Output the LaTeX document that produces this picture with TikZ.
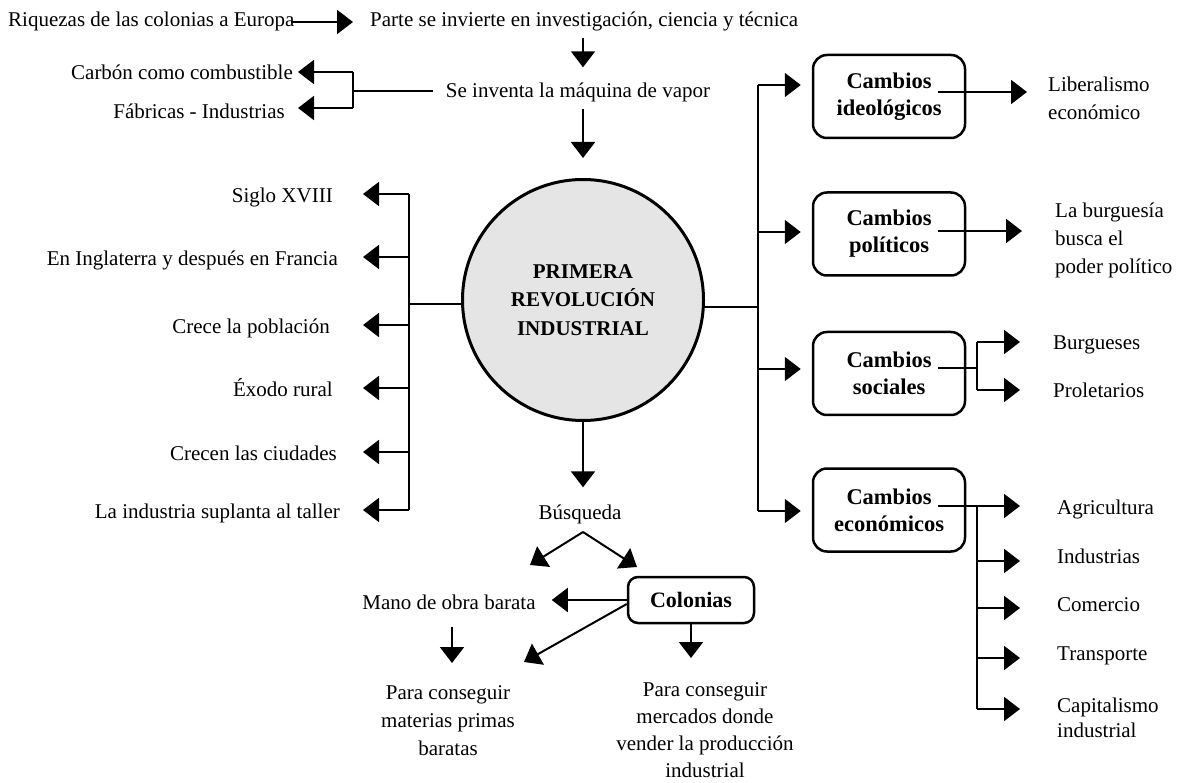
\documentclass[tikz,border=0pt]{standalone}
\usepackage{fontspec}
\setmainfont{Liberation Serif}
\usetikzlibrary{arrows.meta,calc}
\begin{document}
\begin{tikzpicture}[x=1pt,y=-1pt,
  lbl/.style={inner sep=0pt, font=\fontsize{21}{28}\selectfont, text height=14pt, text depth=5pt},
  ml/.style={inner sep=0pt, font=\fontsize{21}{28}\selectfont},
  arr/.style={-{Triangle[length=16pt,width=24pt]}, line width=2pt},
  ln/.style={line width=2pt},
  cbox/.style={draw, line width=2.5pt, rounded corners=14pt, minimum width=152pt, minimum height=83pt,
    inner sep=0pt, align=center, font=\fontsize{22.5}{27}\selectfont\bfseries},
  colbox/.style={draw, line width=2.5pt, rounded corners=10pt, minimum width=126pt, minimum height=46pt,
    inner sep=0pt, font=\fontsize{22}{27}\selectfont\bfseries}
]
\useasboundingbox (0,0) rectangle (1178,783);

% central circle
\node[circle, draw, line width=3pt, fill=gray!20, minimum size=241pt, inner sep=0pt, align=center,
  font=\fontsize{21}{28.5}\selectfont\bfseries] (rev) at (583,300) {PRIMERA\\REVOLUCIÓN\\INDUSTRIAL};

% top chain
\node[lbl, anchor=west] (riq) at (8,22) {Riquezas de las colonias a Europa};
\node[lbl, anchor=west] (par) at (370,22) {Parte se invierte en investigación, ciencia y técnica};
\node[lbl] (vap) at (578,93) {Se inventa la máquina de vapor};
\draw[arr, shorten <=-4pt, shorten >=17pt] (riq.east) -- (par.west);
\draw[arr, shorten <=6pt, shorten >=16pt] (par.south -| rev.north) -- (vap.north -| rev.north);
\draw[arr, shorten <=6pt, shorten >=20pt] (vap.south -| rev.north) -- (rev.north);

% carbon / fabricas
\coordinate (cs) at (433,91);
\coordinate (cj) at (353,91);
\coordinate (cj1) at (353,72);
\coordinate (cj2) at (353,108);
\coordinate (ct1) at (298,72);
\coordinate (ct2) at (298,108);
\node[lbl, anchor=east] (carb) at (293,75) {Carbón como combustible};
\node[lbl, anchor=east] (fab) at (285,114) {Fábricas - Industrias};
\draw[ln] (cs) -- (cj);
\draw[ln] (cj1) -- (cj2);
\draw[arr] (cj1) -- (ct1);
\draw[arr] (cj2) -- (ct2);

% left branch
\coordinate (lb) at (409,304);
\draw[ln] (rev.west |- lb) -- (lb);
\foreach \i/\y/\x/\t in {1/194/333/Siglo XVIII, 2/257/338/En Inglaterra y después en Francia,
    3/325/330/Crece la población, 4/388/333/Éxodo rural, 5/452/337/Crecen las ciudades,
    6/510/340/La industria suplanta al taller}{
  \node[lbl, anchor=east] (L\i) at (\x,\y+4) {\t};
  \coordinate (LJ\i) at (409,\y);
  \coordinate (LT\i) at (363,\y);
  \draw[arr] (LJ\i) -- (LT\i);
}
\draw[ln] (LJ1) -- (LJ6);

% right branch
\node[cbox] (B1) at (889,96.5) {Cambios\\ideológicos};
\node[cbox] (B2) at (889,234) {Cambios\\políticos};
\node[cbox] (B3) at (889,373.5) {Cambios\\sociales};
\node[cbox] (B4) at (889,510) {Cambios\\económicos};
\coordinate (rb) at (758,307);
\draw[ln] (rev.east |- rb) -- (rb);
\coordinate (RJ1) at (758,85);
\coordinate (RJ2) at (758,232);
\coordinate (RJ3) at (758,369);
\coordinate (RJ4) at (758,511);
\draw[ln] (RJ1) -- (RJ4);
\foreach \i in {1,2,3,4}{
  \draw[arr, shorten >=11pt] (RJ\i) -- (RJ\i -| B\i.west);
}

% ideologicos / politicos outputs
\node[ml, anchor=west, align=left] (lib) at (1048,98) {Liberalismo\\económico};
\node[ml, anchor=west, align=left] (bur) at (1055,240) {La burguesía\\busca el\\poder político};
\coordinate (B1o) at ($(B1.center)+(49,-4.5)$);
\coordinate (B1t) at (1027,92);
\draw[arr] (B1o) -- (B1t);
\coordinate (B2o) at ($(B2.center)+(49,-3)$);
\coordinate (B2t) at (1022,231);
\draw[arr] (B2o) -- (B2t);

% sociales
\coordinate (B3o) at ($(B3.center)+(49,-5.5)$);
\coordinate (S0) at (977,368);
\coordinate (S1) at (977,342);
\coordinate (S2) at (977,390);
\coordinate (ST1) at (1020,342);
\coordinate (ST2) at (1020,390);
\draw[ln] (B3o) -- (S0);
\draw[ln] (S1) -- (S2);
\draw[arr] (S1) -- (ST1);
\draw[arr] (S2) -- (ST2);
\node[lbl, anchor=west] (burg) at (1053,345) {Burgueses};
\node[lbl, anchor=west] (prol) at (1053,393) {Proletarios};

% economicos
\coordinate (B4o) at ($(B4.center)+(49,-4)$);
\foreach \i/\y in {1/506, 2/561, 3/608, 4/658, 5/709}{
  \coordinate (EJ\i) at (977,\y);
  \coordinate (ET\i) at (1020,\y);
}
\draw[ln] (B4o) -- (EJ1);
\draw[ln] (EJ1) -- (EJ5);
\foreach \i in {1,...,5}{ \draw[arr] (EJ\i) -- (ET\i); }
\node[lbl, anchor=west] (E1) at (1057,510) {Agricultura};
\node[lbl, anchor=west] (E2) at (1057,559) {Industrias};
\node[lbl, anchor=west] (E3) at (1057,607) {Comercio};
\node[lbl, anchor=west] (E4) at (1057,656) {Transporte};
\node[ml, anchor=west, align=left, font=\fontsize{21}{25}\selectfont] (E5) at (1057,718) {Capitalismo\\industrial};

% bottom
\node[lbl] (busq) at (580,515) {Búsqueda};
\draw[arr, shorten >=18pt] (rev.south) -- (rev.south |- busq.north);
\coordinate (ap) at (583,532);
\coordinate (apl) at (530,565);
\coordinate (apr) at (637,567);
\draw[arr] (ap) -- (apl);
\draw[arr] (ap) -- (apr);

\node[colbox] (col) at (691,600) {Colonias};
\node[lbl] (mano) at (449,605) {Mano de obra barata};
\draw[arr, shorten >=16pt] (col.west) -- (col.west -| mano.east);
\coordinate (mt) at (524,662);
\draw[arr] ([yshift=-4pt]col.west) -- (mt);

\node[ml, align=center] (mat) at (448,721) {Para conseguir\\materias primas\\baratas};
\node[ml, align=center, font=\fontsize{21}{27}\selectfont] (mer) at (705,730) {Para conseguir\\mercados donde\\vender la producción\\industrial};
\coordinate (md1) at (452,627);
\coordinate (md2) at (452,663);
\draw[arr] (md1) -- (md2);
\coordinate (cd2) at (691,658);
\draw[arr] (col.south) -- (cd2);
\end{tikzpicture}
\end{document}
